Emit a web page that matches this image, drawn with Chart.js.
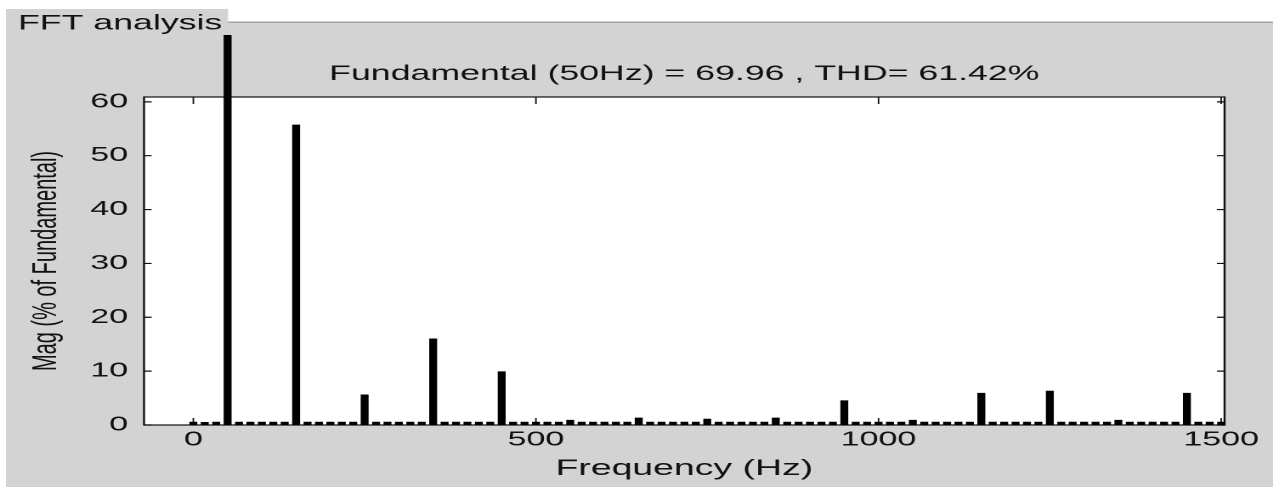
<!DOCTYPE html>
<html><head><meta charset="utf-8">
<script src="https://cdn.jsdelivr.net/npm/chart.js@4"></script>
<style>
html,body{margin:0;padding:0;background:#fff;overflow:hidden;width:1273px;height:487px;}
#wrap{position:absolute;left:0;top:0;width:749px;height:487px;transform:scaleX(1.6996);transform-origin:0 0;}
canvas{display:block;}
</style></head><body>
<div id="wrap"><canvas id="c" width="749" height="487"></canvas></div>
<script>
// FFT bins (Hz), resolution 50/3 Hz
const freqsHz = [
  0, 16.67, 33.33, 50, 66.67, 83.33,
  100, 116.67, 133.33, 150, 166.67, 183.33,
  200, 216.67, 233.33, 250, 266.67, 283.33,
  300, 316.67, 333.33, 350, 366.67, 383.33,
  400, 416.67, 433.33, 450, 466.67, 483.33,
  500, 516.67, 533.33, 550, 566.67, 583.33,
  600, 616.67, 633.33, 650, 666.67, 683.33,
  700, 716.67, 733.33, 750, 766.67, 783.33,
  800, 816.67, 833.33, 850, 866.67, 883.33,
  900, 916.67, 933.33, 950, 966.67, 983.33,
  1000, 1016.67, 1033.33, 1050, 1066.67, 1083.33,
  1100, 1116.67, 1133.33, 1150, 1166.67, 1183.33,
  1200, 1216.67, 1233.33, 1250, 1266.67, 1283.33,
  1300, 1316.67, 1333.33, 1350, 1366.67, 1383.33,
  1400, 1416.67, 1433.33, 1450, 1466.67, 1483.33,
  1500
];
// Magnitude (% of fundamental)
const magPct = [
  0.55, 0.5, 0.55, 100, 0.55, 0.55,
  0.55, 0.55, 0.55, 55.7, 0.55, 0.55,
  0.55, 0.55, 0.55, 5.6, 0.55, 0.55,
  0.55, 0.55, 0.55, 16.0, 0.55, 0.55,
  0.55, 0.55, 0.55, 9.9, 0.55, 0.55,
  0.55, 0.55, 0.55, 0.9, 0.55, 0.55,
  0.55, 0.55, 0.55, 1.3, 0.55, 0.55,
  0.55, 0.55, 0.55, 1.1, 0.55, 0.55,
  0.55, 0.55, 0.55, 1.3, 0.55, 0.55,
  0.55, 0.55, 0.55, 4.5, 0.55, 0.55,
  0.55, 0.55, 0.55, 0.9, 0.55, 0.55,
  0.55, 0.55, 0.55, 5.9, 0.55, 0.55,
  0.55, 0.55, 0.55, 6.3, 0.55, 0.55,
  0.55, 0.55, 0.55, 0.9, 0.55, 0.55,
  0.55, 0.55, 0.55, 5.9, 0.55, 0.55,
  0.55
];
const xTickValues = [0, 500, 1000, 1500];
const yTickValues = [0, 10, 20, 30, 40, 50, 60];
const panelTitle = 'FFT analysis';
const chartTitle = 'Fundamental (50Hz) = 69.96 , THD= 61.42%';
const xAxisTitle = 'Frequency (Hz)';
const yAxisTitle = 'Mag (% of Fundamental)';

const FONT = "'Liberation Sans', Arial, Helvetica, sans-serif";
const INK = '#111';

const framePlugin = {
  id: 'frame',
  beforeDraw(chart) {
    const ctx = chart.ctx, a = chart.chartArea, W = chart.width, H = chart.height;
    ctx.save();
    ctx.fillStyle = '#d3d3d3';
    ctx.fillRect(3.5, 23, W - 3.5, H - 23);
    ctx.fillRect(3.5, 9, 130.7, 14);
    ctx.fillStyle = '#8c8c8c';
    ctx.fillRect(134.2, 21.6, W - 134.2, 1.2);
    ctx.fillStyle = '#ffffff';
    ctx.fillRect(a.left, a.top, a.right - a.left, a.bottom - a.top);
    ctx.fillStyle = INK;
    ctx.font = '21px ' + FONT;
    ctx.textBaseline = 'alphabetic';
    ctx.textAlign = 'left';
    ctx.fillText(panelTitle, 10.6, 29.5);
    ctx.textAlign = 'center';
    ctx.fillText(chartTitle, (a.left + a.right) / 2, 80);
    ctx.restore();
  },
  beforeDatasetsDraw(chart) {
    const ctx = chart.ctx, a = chart.chartArea;
    const xs = chart.scales.x, ys = chart.scales.y;
    ctx.save();
    ctx.strokeStyle = INK;
    ctx.lineWidth = 1.2;
    ctx.beginPath();
    yTickValues.forEach(v => {
      const py = ys.getPixelForValue(v);
      ctx.moveTo(a.left, py); ctx.lineTo(a.left + 4.5, py);
      ctx.moveTo(a.right, py); ctx.lineTo(a.right - 4.5, py);
    });
    ctx.stroke();
    ctx.lineWidth = 0.9;
    ctx.beginPath();
    xTickValues.forEach(v => {
      const px = xs.getPixelForValue(v);
      ctx.moveTo(px, a.bottom); ctx.lineTo(px, a.bottom - 7);
      ctx.moveTo(px, a.top); ctx.lineTo(px, a.top + 7);
    });
    ctx.stroke();
    ctx.lineWidth = 1.2;
    ctx.strokeRect(a.left, a.top, a.right - a.left, a.bottom - a.top);
    ctx.restore();
  }
};

new Chart(document.getElementById('c'), {
  type: 'bar',
  data: {
    datasets: [{
      data: freqsHz.map((f, i) => ({ x: f, y: magPct[i] })),
      backgroundColor: '#000',
      borderWidth: 0,
      barThickness: 4,
      grouped: false,
      clip: { left: 10, top: 62, right: 10, bottom: 0 }
    }]
  },
  options: {
    responsive: false,
    devicePixelRatio: 2,
    animation: false,
    layout: { padding: { left: 0, right: 28.5, top: 97, bottom: 0 } },
    plugins: { legend: { display: false }, tooltip: { enabled: false }, title: { display: false } },
    scales: {
      x: {
        type: 'linear', min: -72, max: 1505, offset: false,
        afterFit(s) { s.height = 62; },
        afterBuildTicks(s) { s.ticks = xTickValues.map(v => ({ value: v })); },
        grid: { display: false, drawTicks: false, offset: false },
        border: { display: false },
        ticks: { font: { size: 20, family: FONT }, color: INK, padding: 3, maxRotation: 0, autoSkip: false, callback: v => String(v) },
        title: { display: true, text: xAxisTitle, color: INK, font: { size: 22, family: FONT }, padding: { top: 0, bottom: 5 } }
      },
      y: {
        type: 'linear', min: 0, max: 60.9,
        afterFit(s) { s.width = 84.73; },
        afterBuildTicks(s) { s.ticks = yTickValues.map(v => ({ value: v })); },
        grid: { display: false, drawTicks: false },
        border: { display: false },
        ticks: { font: { size: 20, family: FONT }, color: INK, padding: 9.4, autoSkip: false, callback: v => String(v) },
        title: { display: true, text: yAxisTitle, color: INK, font: { size: 20, family: FONT }, padding: { top: 15.7, bottom: 0 } }
      }
    }
  },
  plugins: [framePlugin]
});
</script>
</body></html>
